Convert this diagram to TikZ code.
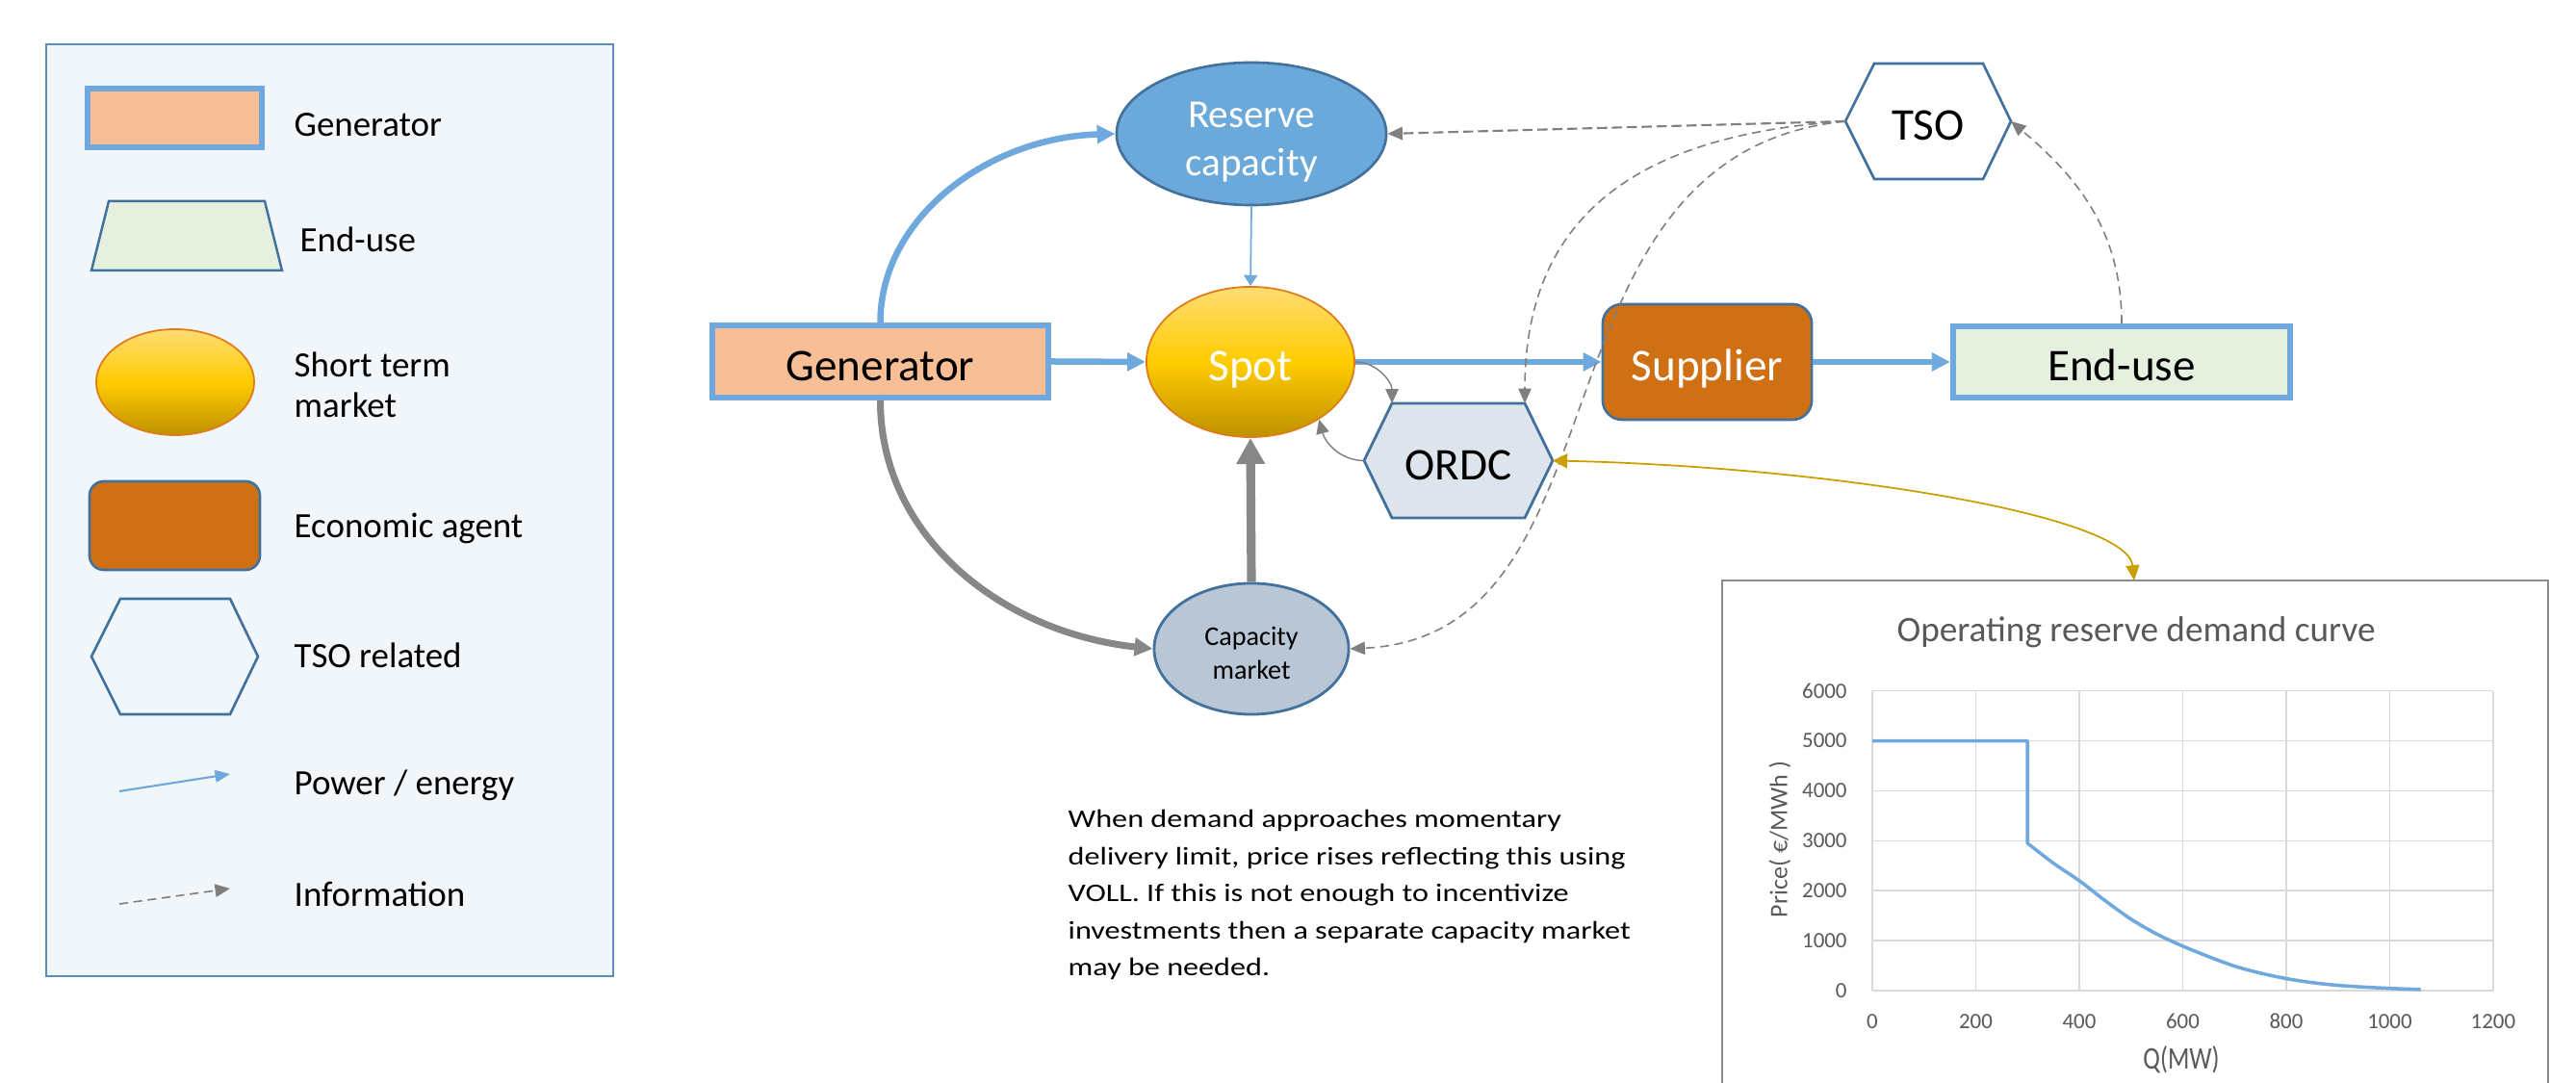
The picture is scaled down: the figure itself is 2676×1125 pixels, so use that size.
\documentclass[tikz,border=0pt]{standalone}
\usepackage{fontspec}
\setmainfont{Carlito}
\usetikzlibrary{arrows.meta,shapes.geometric,calc}
\definecolor{genfill}{HTML}{F8BF97}
\definecolor{lblue}{HTML}{6FA8DC}
\definecolor{dblue}{HTML}{41719C}
\definecolor{endfill}{HTML}{E5F0DF}
\definecolor{supfill}{HTML}{D07014}
\definecolor{resfill}{HTML}{6CA9DB}
\definecolor{spottop}{HTML}{FFDC73}
\definecolor{spotmid}{HTML}{FFCC00}
\definecolor{spotbot}{HTML}{BF9000}
\definecolor{spotline}{HTML}{E07B19}
\definecolor{capfill}{HTML}{B8C6D6}
\definecolor{ordcfill}{HTML}{DEE4EC}
\definecolor{legfill}{HTML}{F1F6FB}
\definecolor{legline}{HTML}{5B8DBE}
\definecolor{garrow}{HTML}{878787}
\definecolor{dgray}{HTML}{7F7F7F}
\definecolor{goldc}{HTML}{CC9F00}
\definecolor{charttext}{HTML}{595959}
\definecolor{gridc}{HTML}{D9D9D9}
\definecolor{chartline}{HTML}{8C8C8C}
\begin{document}
\begin{tikzpicture}[x=0.01cm,y=0.01cm,
  every node/.style={inner sep=0pt},
  shapeline/.style={draw=dblue, line width=0.75pt},
  spotshade/.style={top color=spottop, bottom color=spotbot, middle color=spotmid, draw=spotline, line width=0.5pt},
  bigtext/.style={font=\fontsize{13.4}{16}\selectfont, text height=11.2pt, text depth=0pt},
  legtext/.style={font=\fontsize{10.5}{12}\selectfont, anchor=base west},
  thickblue/.style={draw=lblue, line width=1.85pt, -{Triangle[length=5.4pt,width=5.2pt]}},
  thinblue/.style={draw=lblue, line width=0.5pt, -{Triangle[length=3.2pt,width=4pt]}},
  legblue/.style={draw=lblue, line width=0.6pt, -{Triangle[length=4.4pt,width=3.6pt]}},
  thickgray/.style={draw=garrow, line width=2pt, -{Triangle[length=5.4pt,width=5.2pt]}},
  heavygray/.style={draw=garrow, line width=2.6pt, -{Triangle[length=7.7pt,width=8pt]}},
  thingray/.style={draw=dgray, line width=0.4pt, -{Triangle[length=4.2pt,width=3.8pt]}},
  infoarrow/.style={draw=dgray, line width=0.45pt, dash pattern=on 2.6pt off 1.6pt, -{Triangle[length=4.4pt,width=3.8pt]}},
  goldarrow/.style={draw=goldc, line width=0.5pt, {Triangle[length=4.3pt,width=4.3pt]}-{Triangle[length=4.5pt,width=4pt]}},
  ticklab/.style={font=\fontsize{6.5}{8}\selectfont, text=charttext}
]
\fill[white] (0,0) rectangle (2676,1125);
\useasboundingbox (0,0) rectangle (2676,1125);

% ---------------- legend ----------------
\draw[fill=legfill, draw=legline, line width=0.6pt] (48,111) rectangle (637,1079);
\node[draw=lblue, line width=1.7pt, fill=genfill, minimum width=1.81cm, minimum height=0.61cm] (lgen) at (181.5,1002.5) {};
\node[legtext] (lgent) at (305,983) {Generator};
\draw[fill=endfill, draw=dblue, line width=0.7pt] (95,844) -- (293,844) -- (275,916) -- (113,916) -- cycle;
\node[legtext] (lendt) at (311,863) {End-use};
\node[ellipse, spotshade, minimum width=1.64cm, minimum height=1.1cm] (lell) at (182,728) {};
\node[font=\fontsize{10.5}{12}\selectfont, anchor=west, align=left] (lellt) at (305,725) {Short term\\market};
\node[rectangle, rounded corners=0.15cm, fill=supfill, shapeline, minimum width=1.77cm, minimum height=0.92cm] (lecon) at (181.5,579) {};
\node[legtext] (lecont) at (305,566) {Economic agent};
\draw[shapeline] (95,443) -- (125,503) -- (239,503) -- (268,443) -- (239,383) -- (125,383) -- cycle;
\node[legtext] (lhext) at (305,431) {TSO related};
\coordinate (lpa) at (124,303); \coordinate (lpb) at (239,321);
\draw[legblue] (lpa) -- (lpb);
\node[legtext] (lpt) at (305,299) {Power / energy};
\coordinate (lia) at (124,186); \coordinate (lib) at (239,202);
\draw[infoarrow] (lia) -- (lib);
\node[legtext] (lit) at (305,183) {Information};

% ---------------- main nodes ----------------
\node[draw=lblue, line width=1.7pt, fill=genfill, minimum width=3.49cm, minimum height=0.75cm, bigtext] (gen) at (914.5,749.5) {Generator};
\node[ellipse, fill=resfill, shapeline, minimum width=2.8cm, minimum height=1.48cm, text=white, align=center, font=\fontsize{11.7}{14.2}\selectfont] (res) at (1300,986) {\rule{0pt}{12.6pt}Reserve\\capacity};
\node[ellipse, spotshade, minimum width=2.16cm, minimum height=1.56cm, text=white, bigtext] (spot) at (1299,749) {Spot};
\node[rectangle, rounded corners=0.2cm, fill=supfill, shapeline, minimum width=2.17cm, minimum height=1.2cm, text=white, bigtext] (sup) at (1773.5,749) {Supplier};
\node[draw=lblue, line width=1.7pt, fill=endfill, minimum width=3.5cm, minimum height=0.74cm, bigtext] (end) at (2204,749) {End-use};
\node[ellipse, fill=capfill, shapeline, line width=0.8pt, minimum width=2.02cm, minimum height=1.36cm, align=center, font=\fontsize{8}{9.9}\selectfont] (cap) at (1300,451) {\rule{0pt}{8pt}Capacity\\market};

% TSO hexagon
\draw[shapeline, fill=white] (1917,999) coordinate (tsoW) -- (1947,1059) -- (2060,1059) -- (2089,999) coordinate (tsoE) -- (2060,939) -- (1947,939) -- cycle;
\node[bigtext] (tso) at (2003,999) {TSO};
% ORDC hexagon
\draw[shapeline, line width=0.8pt, fill=ordcfill] (1417,646.5) coordinate (ordcW) -- (1446,706) coordinate (ordcNW) -- (1584,706) coordinate (ordcNE) -- (1613,646.5) coordinate (ordcE) -- (1584,587) -- (1446,587) -- cycle;
\node[bigtext] (ordc) at (1515,646.5) {ORDC};

% ---------------- connectors ----------------
\draw[thickblue] (gen.east) -- (spot.west);
\draw[thickblue] (spot.east) -- (sup.west);
\draw[thickblue] (sup.east) -- (end.west);
\draw[thinblue] (res.south) -- (spot.north);
\draw[thickblue] (gen.north) .. controls (914.5,898) and (1025,982) .. (res.west);
\draw[thickgray] (gen.south) .. controls (914.5,567) and (1041,468) .. (cap.west);
\draw[heavygray] (cap.north) -- (spot.south);
\draw[thingray] (spot.east) to[out=0,in=90] (ordcNW);
\draw[thingray] (ordcW) to[out=180,in=-75] (spot.-40);
\draw[infoarrow, line width=0.6pt, dash pattern=on 3pt off 1.4pt] (tsoW) -- (res.east);
\draw[infoarrow] (end.north) to[out=90,in=-40] (tsoE);
\draw[infoarrow] (tsoW) .. controls (1700,985) and (1584,900) .. (ordcNE);
\draw[infoarrow] (tsoW) .. controls (1580,965) and (1700,465) .. (cap.east);
\coordinate (charttop) at (2217,522);
\draw[goldarrow] (ordcE) .. controls (1900,640) and (2210,590) .. (charttop);

% ---------------- chart ----------------
\draw[chartline, line width=0.6pt] (1789,522) rectangle (2647,-20);
\node[font=\fontsize{10.6}{12}\selectfont, text=charttext] (ctitle) at (2219,468) {Operating reserve demand curve};
\begin{scope}[shift={(1945,96)}, x=0.005375cm, y=0.0005233cm]
  \foreach \xx in {0,200,...,1200} \draw[gridc, line width=0.45pt] (\xx,0) -- (\xx,6000);
  \foreach \yy in {0,1000,...,6000} \draw[gridc, line width=0.45pt] (0,\yy) -- (1200,\yy);
  \foreach \yy in {0,1000,...,6000} \node[ticklab, anchor=east] at (-48,\yy) {\yy};
  \foreach \xx in {0,200,...,1200} \node[ticklab] at (\xx,-620) {\xx};
  \draw[lblue, line width=1pt, line join=round] (0,5000) -- (300,5000) -- (300,2950)
    -- plot[smooth] coordinates {(300,2950) (350,2550) (400,2200) (450,1800) (500,1430) (550,1130) (600,890) (650,680) (700,490) (750,350) (800,240) (850,160) (900,105) (950,70) (1000,45) (1060,20)};
\end{scope}
\node[rotate=90, font=\fontsize{7.4}{9}\selectfont, text=charttext] (ylab) at (1849,253) {Price( €/MWh )};
\node[font=\fontsize{9.3}{11}\selectfont, text=charttext] (xlab) at (2266,24) {\scalebox{0.8}[1]{Q(MW)}};

% ---------------- note ----------------
\node[anchor=north west] (note) at (1109,293) {\scalebox{1.22}[1]{\fontsize{7.5}{10.95}\selectfont\begin{tabular}{@{}l@{}}When demand approaches momentary\\delivery limit, price rises reflecting this using\\VOLL. If this is not enough to incentivize\\investments then a separate capacity market\\may be needed.\end{tabular}}};
\end{tikzpicture}
\end{document}
